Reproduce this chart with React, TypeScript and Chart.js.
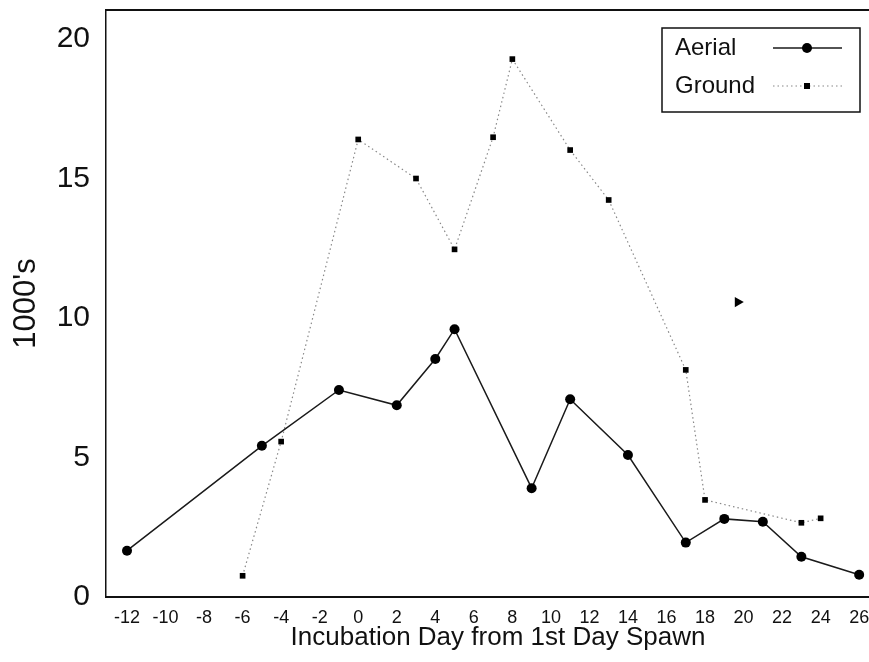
import { useEffect, useRef } from 'react';
import { Chart, registerables } from 'chart.js';

Chart.register(...registerables);

// Data
const aerialDays = [-12, -5, -1, 2, 4, 5, 9, 11, 14, 17, 19, 21, 23, 26];
const aerialValues = [1.66, 5.42, 7.42, 6.87, 8.53, 9.6, 3.9, 7.09, 5.09, 1.95, 2.8, 2.7, 1.44, 0.8];

const groundDays = [-6, -4, 0, 3, 5, 7, 8, 11, 13, 17, 18, 23, 24];
const groundValues = [0.76, 5.57, 16.4, 15.0, 12.46, 16.48, 19.28, 16.02, 14.23, 8.14, 3.48, 2.66, 2.82];

// stray mark in the original scan
const markDays = [19.7];
const markValues = [10.57];

const xTicks = [-12, -10, -8, -6, -4, -2, 0, 2, 4, 6, 8, 10, 12, 14, 16, 18, 20, 22, 24, 26];
const yTicks = [0, 5, 10, 15, 20];

const FONT = '"Liberation Sans", Arial, sans-serif';

const toPoints = (xs: number[], ys: number[]) => xs.map((x, i) => ({ x, y: ys[i] }));

const framePlugin = {
  id: 'topFrame',
  beforeDatasetsDraw(chart: any) {
    const { ctx, chartArea } = chart;
    ctx.save();
    ctx.strokeStyle = '#111';
    ctx.lineWidth = 2;
    ctx.beginPath();
    ctx.moveTo(chartArea.left, chartArea.top);
    ctx.lineTo(chartArea.right, chartArea.top);
    ctx.stroke();
    ctx.restore();
  },
};

const legendPlugin = {
  id: 'boxLegend',
  afterDraw(chart: any) {
    const ctx = chart.ctx;
    const bx = 662, by = 28, bw = 198, bh = 84;
    ctx.save();
    ctx.fillStyle = '#fff';
    ctx.fillRect(bx, by, bw, bh);
    ctx.strokeStyle = '#111';
    ctx.lineWidth = 1.5;
    ctx.strokeRect(bx, by, bw, bh);
    [0, 1].forEach((idx, i) => {
      const ds = chart.data.datasets[idx];
      const cy = by + 20 + i * 38;
      ctx.font = '24px ' + FONT;
      ctx.fillStyle = '#111';
      ctx.textBaseline = 'middle';
      ctx.textAlign = 'left';
      ctx.fillText(ds.label, bx + 13, cy);
      ctx.strokeStyle = ds.borderColor;
      ctx.lineWidth = ds.borderWidth;
      ctx.setLineDash(ds.borderDash || []);
      ctx.beginPath();
      ctx.moveTo(bx + 111, cy);
      ctx.lineTo(bx + 180, cy);
      ctx.stroke();
      ctx.setLineDash([]);
      ctx.fillStyle = ds.pointBackgroundColor;
      const mx = bx + 145;
      if (ds.pointStyle === 'rect') {
        ctx.fillRect(mx - 3, cy - 3, 6, 6);
      } else {
        ctx.beginPath();
        ctx.arc(mx, cy, ds.pointRadius, 0, Math.PI * 2);
        ctx.fill();
      }
    });
    ctx.restore();
  },
};

export default function App() {
  const canvasRef = useRef<HTMLCanvasElement | null>(null);

  useEffect(() => {
    if (!canvasRef.current) return;
    const chart = new Chart(canvasRef.current, {
      type: 'line',
      data: {
        datasets: [
          {
            label: 'Aerial',
            data: toPoints(aerialDays, aerialValues),
            borderColor: '#1a1a1a',
            borderWidth: 1.5,
            pointStyle: 'circle',
            pointRadius: 5,
            pointBackgroundColor: '#000',
            pointBorderWidth: 0,
            pointBorderColor: '#000',
            tension: 0,
            fill: false,
          },
          {
            label: 'Ground',
            data: toPoints(groundDays, groundValues),
            borderColor: '#888',
            borderWidth: 1.2,
            borderDash: [1.5, 3],
            pointStyle: 'rect',
            pointRadius: 4,
            pointBackgroundColor: '#000',
            pointBorderWidth: 0,
            pointBorderColor: '#000',
            tension: 0,
            fill: false,
          },
          {
            label: 'mark',
            data: toPoints(markDays, markValues),
            showLine: false,
            pointStyle: 'triangle',
            rotation: 90,
            pointRadius: 6,
            pointBackgroundColor: '#000',
            pointBorderColor: '#000',
            pointBorderWidth: 0,
          },
        ],
      },
      options: {
        responsive: false,
        animation: false,
        layout: { padding: { left: 0, top: 10, right: 10, bottom: 0 } },
        plugins: {
          legend: { display: false },
          tooltip: { enabled: false },
        },
        scales: {
          x: {
            type: 'linear',
            min: -13.09,
            max: 27.6,
            afterBuildTicks: (scale: any) => {
              scale.ticks = xTicks.map((v) => ({ value: v }));
            },
            afterFit: (scale: any) => {
              scale.height = 65;
              scale.paddingLeft = 0;
              scale.paddingRight = 0;
            },
            grid: { display: false, drawTicks: false },
            border: { display: true, color: '#111', width: 2 },
            ticks: {
              font: { family: FONT, size: 18 },
              color: '#111',
              padding: 10,
              maxRotation: 0,
              autoSkip: false,
            },
            title: {
              display: true,
              text: 'Incubation Day from 1st Day Spawn',
              font: { family: FONT, size: 26 },
              color: '#111',
              padding: { top: 0, bottom: 9 },
            },
          },
          y: {
            type: 'linear',
            min: 0,
            max: 21.04,
            afterBuildTicks: (scale: any) => {
              scale.ticks = yTicks.map((v) => ({ value: v }));
            },
            afterFit: (scale: any) => {
              scale.width = 106;
              scale.paddingTop = 0;
              scale.paddingBottom = 0;
            },
            grid: { display: false, drawTicks: false },
            border: { display: true, color: '#111', width: 1.5 },
            ticks: {
              font: { family: FONT, size: 30 },
              color: '#111',
              padding: 16,
            },
            title: {
              display: true,
              text: "1000's",
              font: { family: FONT, size: 31 },
              color: '#111',
              padding: { top: 8, bottom: 0 },
            },
          },
        },
      },
      plugins: [framePlugin, legendPlugin],
    });
    return () => chart.destroy();
  }, []);

  return (
    <div
      style={{
        position: 'fixed',
        left: 0,
        top: 0,
        width: 869,
        height: 662,
        overflow: 'hidden',
        background: '#fff',
      }}
    >
      <canvas ref={canvasRef} width={900} height={662} />
    </div>
  );
}
